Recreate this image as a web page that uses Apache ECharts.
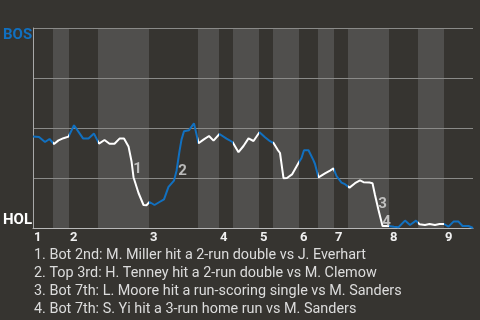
<!DOCTYPE html>
<html><head><meta charset="utf-8">
<script src="https://cdn.jsdelivr.net/npm/echarts@6/dist/echarts.min.js"></script>
<style>html,body{margin:0;padding:0;background:#363430;}#c{width:480px;height:320px;}</style>
</head><body><div id="c"></div><script>
// play index (x) and BOS win probability in % (y)
const playX = [0,1.2,2.4,3.3,4.2,5.1,6.1,7.1,8.2,10,11.1,12.2,13.2,14.3,15.3,16.3,17.3,18.2,19.1,19.7,20.1,21.1,22.1,22.7,23.3,24.3,25.3,26.2,27.1,28.2,28.7,29.3,29.7,30.2,31.2,32.2,33.1,34.1,35.2,36.1,37.3,38.7,39.9,41.1,42.1,43.1,44.1,45.3,46.4,47.4,48.1,48.9,49.4,50.1,50.8,51.8,53.1,53.7,54.2,55.1,56.1,56.4,57.1,58.4,59.4,60.1,60.7,61.7,62.4,63.3,64.4,65.4,66.1,67.3,67.9,68.4,69.1,69.9,71.1,72.2,73.1,74.4,75.4,76.6,77.3,78.4,79.3,80.4,81.3,82.2,83.1,84.1,85.1,85.9,87.1,88];
const bosWinPct = [45.8,45.5,43,44.5,42,43.8,44.9,45.7,51.4,44.8,44.7,47.2,42.2,44,42.1,42.1,44.7,44.7,40.8,33.4,25.4,17.5,11.5,11.4,13,11.5,13,14.3,20.6,23.7,28.5,38.4,44.2,48.4,48.9,52.3,42.4,44.2,46,43.7,47,44.7,43,37.9,41,44.8,43.5,47.9,45.4,43.4,42.5,39.2,37.5,24.9,25,26.8,32.5,35,38.9,38.9,33.8,32,25.3,27.3,28.7,29.8,26,22.7,21.9,20.2,22.4,23.8,22.9,22.7,22.4,16.5,9,1,1,0.6,0.4,3.7,1.5,3.7,1.9,1.5,2,1.5,2,2,0.7,3.2,3.2,1,1,0];
// start of each half inning (top 1st, bot 1st, top 2nd, ...), last = end
const halfInningStarts = [0,4,7.2,13,23.2,33,37.2,40,45.2,48,53.2,57,60.2,63,71.2,77,82.2,88];
const inningLabels = ['1','2','3','4','5','6','7','8','9'];
const eventPoints = [20,30,76,77];
const eventLabels = ['1','2','3','4'];
const footnotes = [
  '1. Bot 2nd: M. Miller hit a 2-run double vs J. Everhart',
  '2. Top 3rd: H. Tenney hit a 2-run double vs M. Clemow',
  '3. Bot 7th: L. Moore hit a run-scoring single vs M. Sanders',
  '4. Bot 7th: S. Yi hit a 3-run home run vs M. Sanders'
];
const teamTop = 'BOS', teamBottom = 'HOL';

const BLUE = '#1170c0', WHITE = '#ffffff', FONT = 'Roboto';
const eventLabelOffsets = [[4,-8],[6,0],[4,-6],[4,-4]];

const inningStarts = halfInningStarts.filter((v,i)=>i%2===0 && i<halfInningStarts.length-1);
const pieces = [];
const bands = [];
for (let i=0;i<halfInningStarts.length-1;i++){
  pieces.push({gte: halfInningStarts[i], lt: halfInningStarts[i+1] + (i===halfInningStarts.length-2?1:0), color: i%2===0?BLUE:WHITE});
  if (i%2===1) bands.push([{xAxis: halfInningStarts[i]},{xAxis: halfInningStarts[i+1]}]);
}

const chart = echarts.init(document.getElementById('c'));
chart.setOption({
  backgroundColor: '#363430',
  animation: false,
  grid: {left: 33, right: 7, top: 28, bottom: 92},
  xAxis: {
    type: 'value', min: 0, max: 88, z: 2,
    axisLine: {show: true, lineStyle: {color: '#b8b8b8', width: 1}},
    axisTick: {show: false},
    splitLine: {show: false},
    axisLabel: {
      customValues: inningStarts,
      formatter: v => inningLabels[inningStarts.indexOf(v)] || '',
      align: 'left', margin: 3, padding: [0,0,0,1], color: '#f0f0f0', fontWeight: 'bold', fontSize: 13, fontFamily: FONT
    }
  },
  yAxis: {
    type: 'value', min: 0, max: 100, interval: 25, z: 2,
    axisLine: {show: true, lineStyle: {color: '#a8a8a8'}},
    axisTick: {show: false},
    axisLabel: {show: false},
    splitLine: {show: true, lineStyle: {color: '#8a8a88', width: 1}}
  },
  visualMap: {show: false, type: 'piecewise', dimension: 0, seriesIndex: 0, pieces: pieces},
  series: [
    {
      type: 'line', z: 3,
      data: playX.map((x,i)=>[x, bosWinPct[i]]),
      showSymbol: false, symbol: 'none',
      lineStyle: {width: 2},
      markArea: {silent: true, itemStyle: {color: '#504f4d'}, data: bands}
    },
    {
      type: 'scatter', z: 4, silent: true,
      symbolSize: 2, itemStyle: {color: 'rgba(0,0,0,0)'},
      label: {show: true, position: 'inside', color: '#dcdcdc', fontWeight: 'bold', fontSize: 15, fontFamily: FONT},
      data: eventPoints.map((p,k)=>({
        value: [playX[p], bosWinPct[p]],
        label: {show: true, formatter: eventLabels[k], offset: eventLabelOffsets[k]}
      }))
    }
  ],
  title: {
    text: footnotes.join('\n'), left: 34, top: 246, padding: 0,
    textStyle: {color: '#dcdcdc', fontSize: 14.4, fontWeight: 'normal', fontFamily: FONT, lineHeight: 18}
  },
  graphic: [
    {type: 'text', left: 3, top: 28, style: {text: teamTop, fill: BLUE, font: 'bold 15px Roboto'}},
    {type: 'text', left: 3, top: 213, style: {text: teamBottom, fill: '#ffffff', font: 'bold 15px Roboto'}}
  ]
});
</script></body></html>
